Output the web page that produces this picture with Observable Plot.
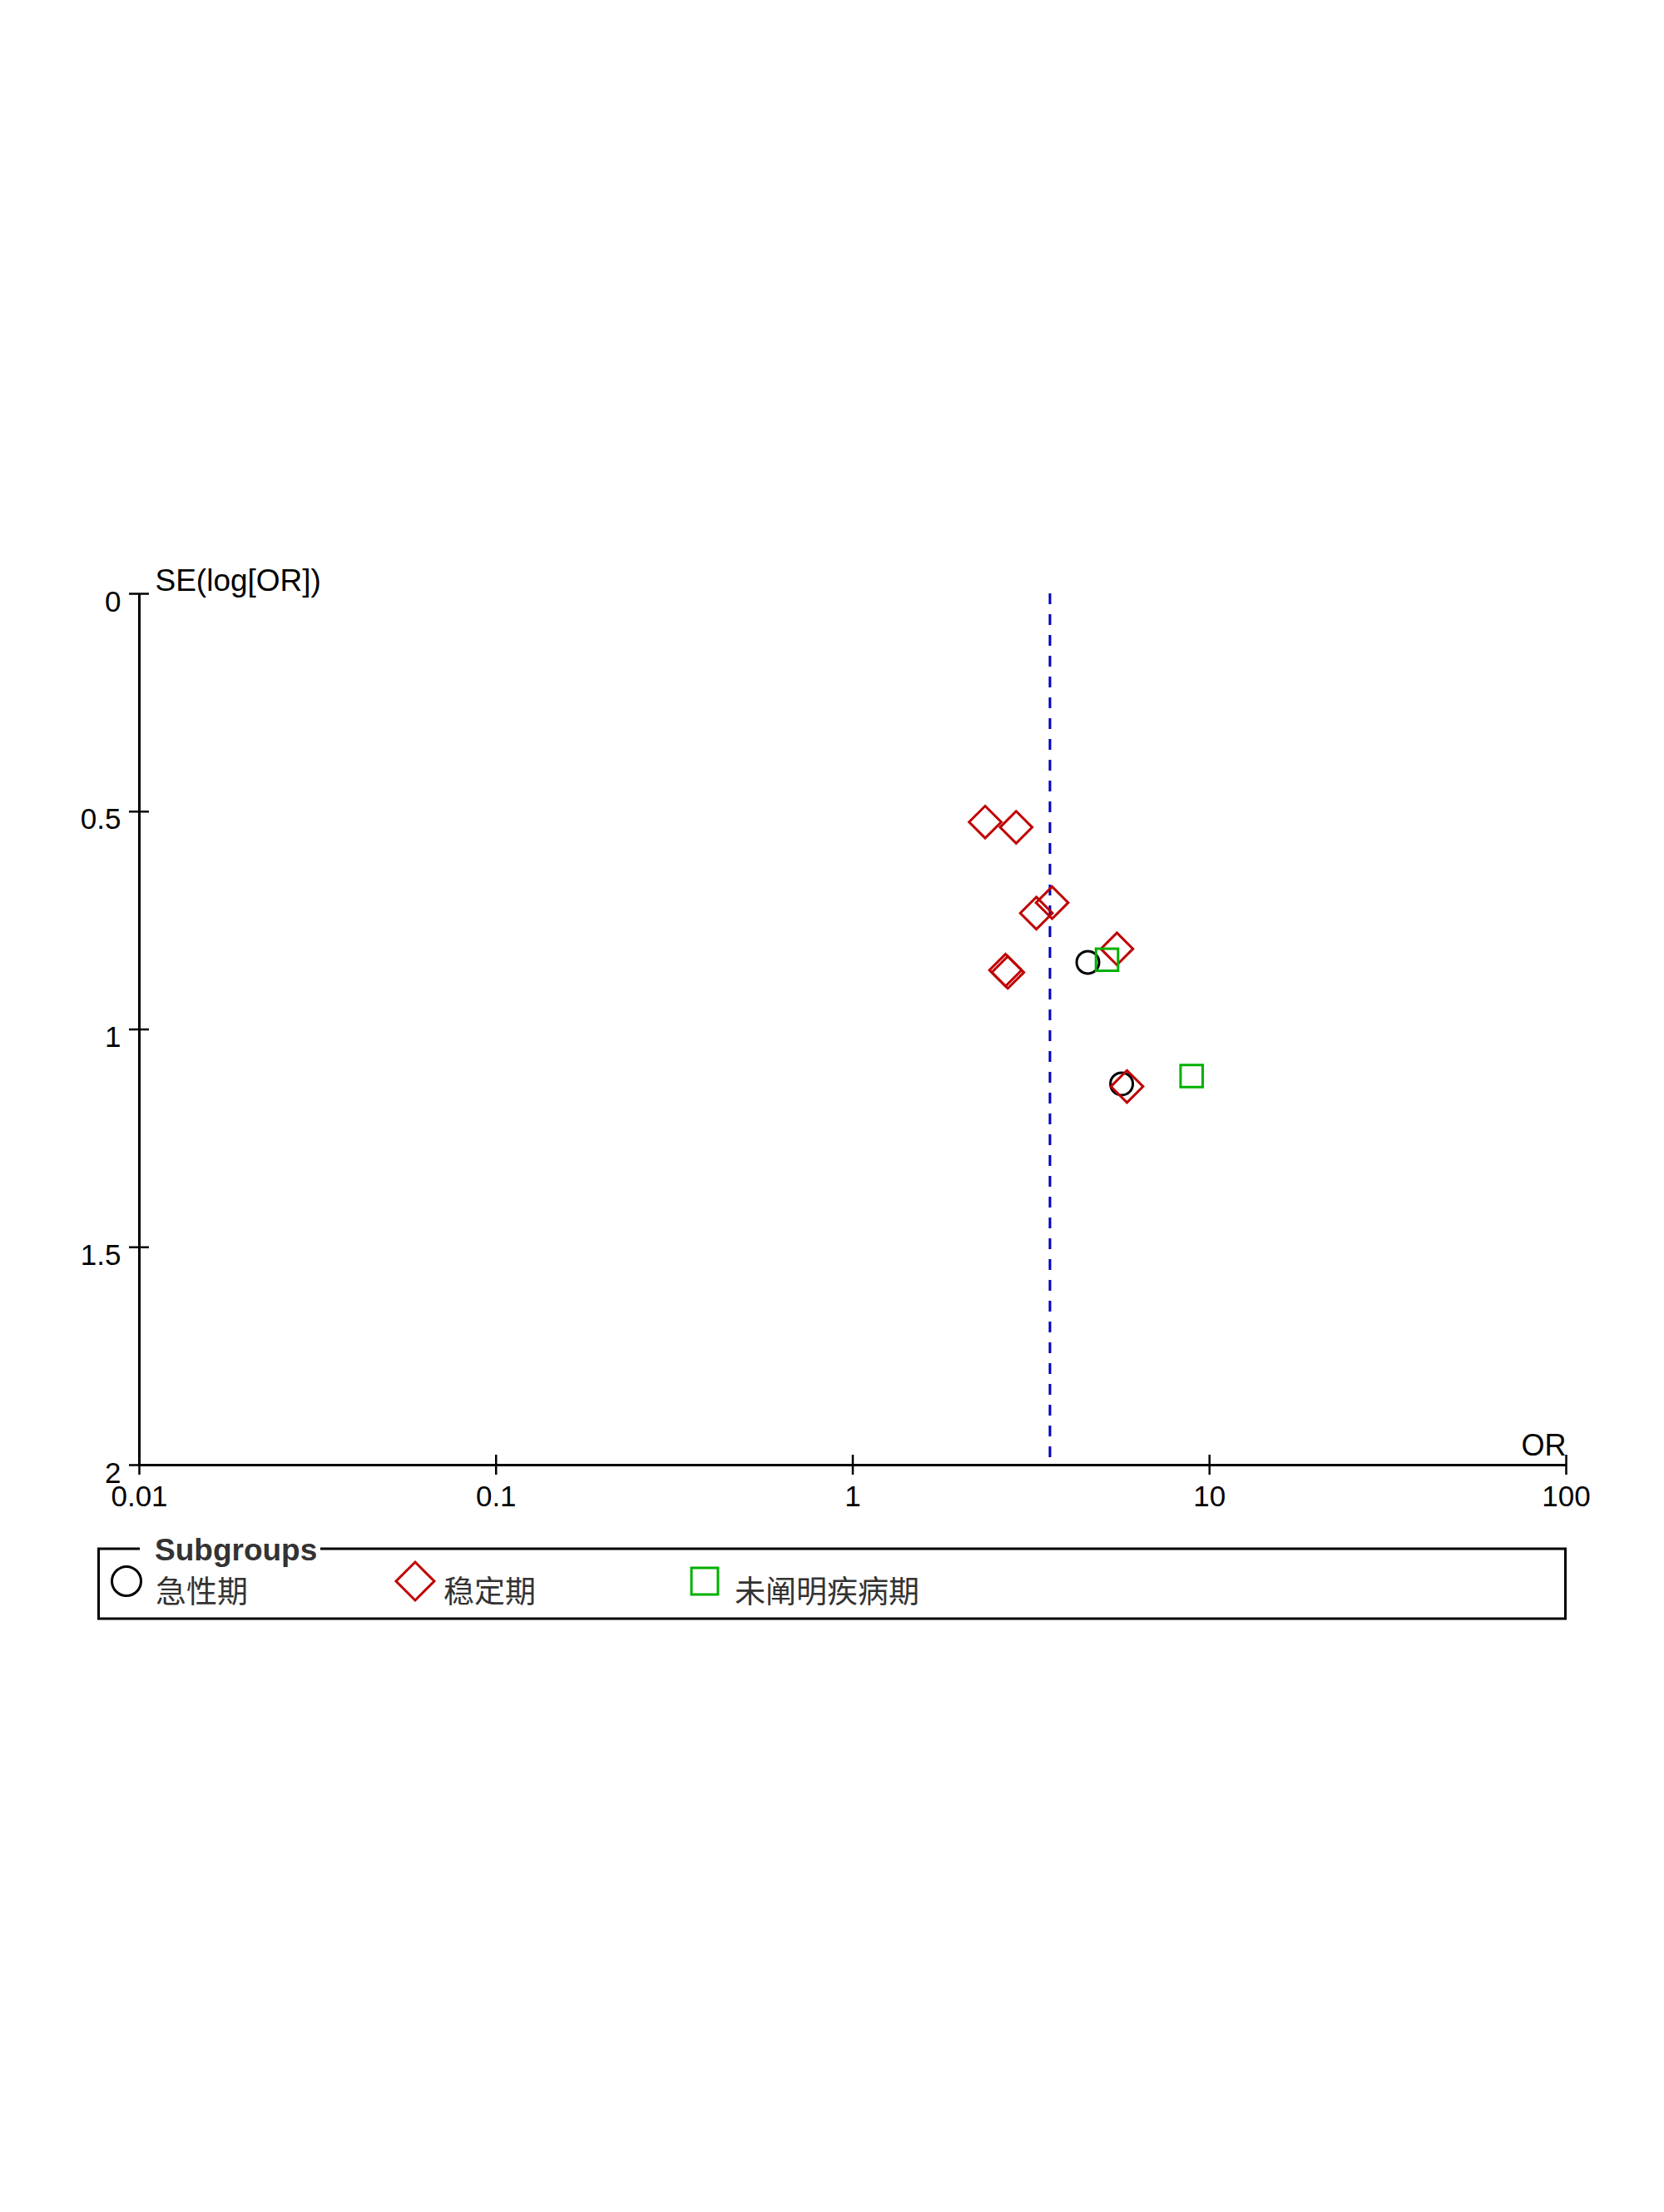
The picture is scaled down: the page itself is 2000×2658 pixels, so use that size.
<!DOCTYPE html>
<html>
<head>
<meta charset="utf-8">
<script src="https://cdn.jsdelivr.net/npm/d3@7"></script>
<script src="https://cdn.jsdelivr.net/npm/@observablehq/plot@0.6"></script>
<style>
  html, body { margin: 0; padding: 0; background: #ffffff; }
  #chart { width: 2000px; height: 2658px; position: relative; background: #ffffff; }
  #chart svg { display: block; }
</style>
</head>
<body>
<div id="chart"></div>
<script>
// ---- data ----
const subgroupNames = ["急性期", "稳定期", "未阐明疾病期"];
const subgroupColors = ["#000000", "#c00000", "#00b000"];
const subgroupSymbols = ["circle", "diamond2", "square"];

const acuteOR = [4.56, 5.67];
const acuteSE = [0.846, 1.125];

const stableOR = [2.35, 2.87, 3.62, 3.27, 5.50, 2.68, 2.72, 5.87];
const stableSE = [0.524, 0.536, 0.709, 0.733, 0.815, 0.864, 0.869, 1.131];

const unclearOR = [5.16, 8.91];
const unclearSE = [0.840, 1.107];

const summaryOR = 3.57;

const xTicks = [0.01, 0.1, 1, 10, 100];
const yTicks = [0, 0.5, 1, 1.5, 2];
const xLabel = "OR";
const yLabel = "SE(log[OR])";
const legendTitle = "Subgroups";

// ---- build tables ----
const toRows = (ors, ses) => ors.map((or, i) => ({or, se: ses[i]}));
const acute = toRows(acuteOR, acuteSE);
const stable = toRows(stableOR, stableSE);
const unclear = toRows(unclearOR, unclearSE);

const xDomain = [xTicks[0], xTicks[xTicks.length - 1]];
const yDomain = [yTicks[0], yTicks[yTicks.length - 1]];

const axisFont = "'Liberation Sans', Arial, Helvetica, sans-serif";
const cjkFont = "'Noto Sans CJK SC', 'Noto Sans', sans-serif";

const plot = Plot.plot({
  width: 2000,
  height: 1830,
  marginLeft: 167,
  marginRight: 118,
  marginTop: 713,
  marginBottom: 70,
  style: {fontFamily: axisFont, fontSize: "35px", color: "#000", background: "#fff"},
  x: {type: "log", domain: xDomain},
  y: {domain: yDomain, reverse: true},
  marks: [
    // summary (pooled) line
    Plot.ruleX([summaryOR], {x: d => d, y1: yDomain[0], y2: yDomain[1], stroke: "#0000c0", strokeWidth: 3, strokeDasharray: "13,12"}),
    // axis lines
    Plot.ruleX([xDomain[0]], {x: d => d, y1: yDomain[0], y2: yDomain[1], stroke: "#000", strokeWidth: 3}),
    Plot.ruleY([yDomain[1]], {y: d => d, x1: xDomain[0], x2: xDomain[1], stroke: "#000", strokeWidth: 3}),
    // crossing ticks
    Plot.ruleX(xTicks, {x: d => d, y1: yDomain[1], y2: yDomain[1], insetTop: -12, insetBottom: -12, stroke: "#000", strokeWidth: 2.5}),
    Plot.ruleY(yTicks, {y: d => d, x1: xDomain[0], x2: xDomain[0], insetLeft: -12, insetRight: -12, stroke: "#000", strokeWidth: 2.5}),
    // tick labels
    Plot.axisX({ticks: xTicks, tickSize: 0, tickPadding: 25, tickFormat: d => String(d), label: null}),
    Plot.axisY({ticks: yTicks, tickSize: 0, tickPadding: 22, tickFormat: d => String(d), label: null, dy: 10}),
    // axis titles
    Plot.text([yLabel], {x: xDomain[0], y: yDomain[0], text: d => d, textAnchor: "start", lineAnchor: "middle", dx: 19, dy: -15, fontSize: 37}),
    Plot.text([xLabel], {x: xDomain[1], y: yDomain[1], text: d => d, textAnchor: "end", lineAnchor: "middle", dy: -23, fontSize: 36}),
    // studies
    Plot.dot(acute, {x: "or", y: "se", symbol: subgroupSymbols[0], r: 13.5, stroke: subgroupColors[0], strokeWidth: 3, fill: "none"}),
    Plot.dot(stable, {x: "or", y: "se", symbol: subgroupSymbols[1], r: 17.4, stroke: subgroupColors[1], strokeWidth: 3, fill: "none"}),
    Plot.dot(unclear, {x: "or", y: "se", symbol: subgroupSymbols[2], r: 15, stroke: subgroupColors[2], strokeWidth: 3, fill: "none"})
  ]
});
document.getElementById("chart").appendChild(plot);

// ---- legend below the plot ----
const legend = d3.create("svg")
  .attr("width", 2000)
  .attr("height", 140)
  .style("display", "block");

legend.append("rect")
  .attr("x", 118.5).attr("y", 31)
  .attr("width", 1763).attr("height", 84)
  .attr("fill", "none").attr("stroke", "#000").attr("stroke-width", 3);

legend.append("rect")
  .attr("x", 168).attr("y", 14)
  .attr("width", 217).attr("height", 34)
  .attr("fill", "#fff");

legend.append("text")
  .attr("x", 186).attr("y", 45)
  .attr("font-family", axisFont)
  .attr("font-weight", "bold")
  .attr("font-size", 37)
  .attr("fill", "#333")
  .text(legendTitle);

const symbolMap = {circle: d3.symbolCircle, diamond2: d3.symbolDiamond2, square: d3.symbolSquare};
const legendSymbolR = [17.5, 20.7, 18];
const itemSymbolX = [152, 499, 847];
const itemTextX = [187, 533, 883];

subgroupNames.forEach((name, i) => {
  const r = legendSymbolR[i];
  legend.append("path")
    .attr("transform", `translate(${itemSymbolX[i]},70)`)
    .attr("d", d3.symbol(symbolMap[subgroupSymbols[i]], r * r * Math.PI)())
    .attr("fill", "none")
    .attr("stroke", subgroupColors[i])
    .attr("stroke-width", 3);
  legend.append("text")
    .attr("x", itemTextX[i]).attr("y", 96)
    .attr("font-family", cjkFont)
    .attr("font-size", 37)
    .attr("fill", "#333")
    .text(name);
});

document.getElementById("chart").appendChild(legend.node());
</script>
</body>
</html>
